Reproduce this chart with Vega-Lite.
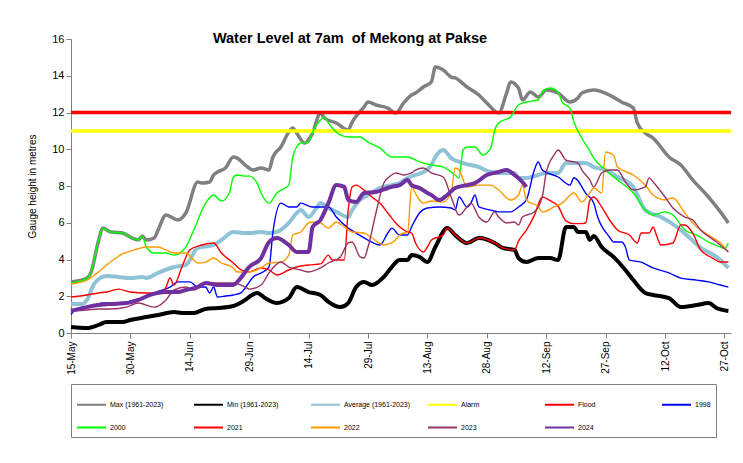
{
"$schema":"https://vega.github.io/schema/vega-lite/v6.json",
"width":660,"height":294,
"autosize":{"type":"none"},
"padding":{"left":71,"top":39,"right":12,"bottom":130},
"background":"white",
"config":{"font":"Liberation Sans","view":{"stroke":null},"axis":{"grid":false,"domainColor":"#808080","tickColor":"#808080","labelColor":"#000000","labelFont":"Liberation Sans","titleFont":"Liberation Sans"}},
"title":{"text":"Water Level at 7am\u00a0 of Mekong at Pakse","fontSize":14.5,"fontWeight":"bold","font":"Liberation Sans","color":"#000000","anchor":"middle","dx":-51,"offset":-13},
"datasets":{
"max":[{"d":"2024-05-15","v":2.78},{"d":"2024-05-19","v":2.99},{"d":"2024-05-20","v":3.27},{"d":"2024-05-22","v":5.06},{"d":"2024-05-23","v":5.71},{"d":"2024-05-25","v":5.5},{"d":"2024-05-28","v":5.44},{"d":"2024-05-30","v":5.22},{"d":"2024-06-01","v":5.06},{"d":"2024-06-02","v":5.28},{"d":"2024-06-03","v":5.06},{"d":"2024-06-05","v":5.17},{"d":"2024-06-06","v":5.61},{"d":"2024-06-08","v":6.42},{"d":"2024-06-11","v":6.15},{"d":"2024-06-13","v":6.53},{"d":"2024-06-16","v":8.22},{"d":"2024-06-17","v":8.16},{"d":"2024-06-19","v":8.22},{"d":"2024-06-20","v":8.6},{"d":"2024-06-21","v":8.76},{"d":"2024-06-23","v":8.98},{"d":"2024-06-25","v":9.58},{"d":"2024-06-26","v":9.52},{"d":"2024-06-28","v":9.14},{"d":"2024-06-30","v":8.87},{"d":"2024-07-02","v":8.98},{"d":"2024-07-04","v":8.87},{"d":"2024-07-05","v":9.58},{"d":"2024-07-07","v":10.12},{"d":"2024-07-09","v":10.94},{"d":"2024-07-10","v":11.16},{"d":"2024-07-11","v":10.88},{"d":"2024-07-13","v":10.34},{"d":"2024-07-15","v":10.88},{"d":"2024-07-17","v":11.97},{"d":"2024-07-18","v":11.7},{"d":"2024-07-21","v":11.43},{"d":"2024-07-24","v":11.05},{"d":"2024-07-25","v":11.48},{"d":"2024-07-28","v":12.3},{"d":"2024-07-29","v":12.57},{"d":"2024-07-31","v":12.41},{"d":"2024-08-03","v":12.24},{"d":"2024-08-05","v":11.97},{"d":"2024-08-07","v":12.52},{"d":"2024-08-09","v":12.95},{"d":"2024-08-10","v":13.06},{"d":"2024-08-12","v":13.39},{"d":"2024-08-14","v":13.66},{"d":"2024-08-15","v":14.48},{"d":"2024-08-17","v":14.31},{"d":"2024-08-19","v":13.93},{"d":"2024-08-20","v":13.88},{"d":"2024-08-23","v":13.39},{"d":"2024-08-26","v":12.95},{"d":"2024-08-28","v":12.52},{"d":"2024-08-31","v":11.97},{"d":"2024-09-02","v":13.06},{"d":"2024-09-03","v":13.66},{"d":"2024-09-05","v":13.33},{"d":"2024-09-06","v":12.68},{"d":"2024-09-08","v":13.12},{"d":"2024-09-10","v":12.84},{"d":"2024-09-12","v":13.22},{"d":"2024-09-15","v":13.06},{"d":"2024-09-18","v":12.57},{"d":"2024-09-20","v":12.79},{"d":"2024-09-21","v":13.06},{"d":"2024-09-24","v":13.22},{"d":"2024-09-28","v":12.95},{"d":"2024-10-01","v":12.57},{"d":"2024-10-04","v":12.24},{"d":"2024-10-05","v":11.43},{"d":"2024-10-07","v":10.88},{"d":"2024-10-09","v":10.61},{"d":"2024-10-13","v":9.58},{"d":"2024-10-16","v":9.14},{"d":"2024-10-19","v":8.33},{"d":"2024-10-23","v":7.4},{"d":"2024-10-26","v":6.59},{"d":"2024-10-28","v":5.99}],
"min":[{"d":"2024-05-15","v":0.33},{"d":"2024-05-19","v":0.27},{"d":"2024-05-22","v":0.44},{"d":"2024-05-24","v":0.6},{"d":"2024-05-28","v":0.6},{"d":"2024-05-30","v":0.71},{"d":"2024-06-03","v":0.87},{"d":"2024-06-06","v":0.98},{"d":"2024-06-10","v":1.14},{"d":"2024-06-12","v":1.09},{"d":"2024-06-15","v":1.09},{"d":"2024-06-18","v":1.31},{"d":"2024-06-21","v":1.36},{"d":"2024-06-25","v":1.47},{"d":"2024-06-28","v":1.8},{"d":"2024-06-29","v":1.96},{"d":"2024-07-01","v":2.18},{"d":"2024-07-03","v":1.9},{"d":"2024-07-06","v":1.63},{"d":"2024-07-09","v":1.9},{"d":"2024-07-11","v":2.5},{"d":"2024-07-14","v":2.23},{"d":"2024-07-17","v":2.07},{"d":"2024-07-19","v":1.69},{"d":"2024-07-22","v":1.41},{"d":"2024-07-24","v":1.63},{"d":"2024-07-26","v":2.5},{"d":"2024-07-28","v":2.78},{"d":"2024-07-30","v":2.61},{"d":"2024-08-02","v":3.05},{"d":"2024-08-04","v":3.59},{"d":"2024-08-06","v":3.97},{"d":"2024-08-08","v":3.97},{"d":"2024-08-09","v":4.24},{"d":"2024-08-11","v":4.14},{"d":"2024-08-13","v":3.86},{"d":"2024-08-15","v":4.68},{"d":"2024-08-18","v":5.71},{"d":"2024-08-20","v":5.33},{"d":"2024-08-23","v":4.9},{"d":"2024-08-26","v":5.17},{"d":"2024-08-30","v":4.9},{"d":"2024-09-01","v":4.63},{"d":"2024-09-04","v":4.52},{"d":"2024-09-05","v":4.08},{"d":"2024-09-07","v":3.86},{"d":"2024-09-10","v":4.08},{"d":"2024-09-13","v":4.08},{"d":"2024-09-15","v":3.97},{"d":"2024-09-17","v":5.77},{"d":"2024-09-19","v":5.77},{"d":"2024-09-20","v":5.5},{"d":"2024-09-22","v":5.5},{"d":"2024-09-23","v":5.06},{"d":"2024-09-24","v":5.28},{"d":"2024-09-26","v":4.68},{"d":"2024-09-29","v":4.14},{"d":"2024-10-02","v":3.43},{"d":"2024-10-04","v":2.88},{"d":"2024-10-07","v":2.18},{"d":"2024-10-09","v":2.07},{"d":"2024-10-13","v":1.9},{"d":"2024-10-16","v":1.41},{"d":"2024-10-20","v":1.52},{"d":"2024-10-23","v":1.63},{"d":"2024-10-25","v":1.36},{"d":"2024-10-28","v":1.2}],
"avg":[{"d":"2024-05-15","v":1.58},{"d":"2024-05-18","v":1.58},{"d":"2024-05-19","v":1.8},{"d":"2024-05-21","v":2.72},{"d":"2024-05-24","v":3.1},{"d":"2024-05-27","v":3.05},{"d":"2024-05-30","v":2.99},{"d":"2024-06-02","v":3.05},{"d":"2024-06-03","v":2.99},{"d":"2024-06-06","v":3.27},{"d":"2024-06-10","v":3.59},{"d":"2024-06-13","v":3.7},{"d":"2024-06-16","v":4.63},{"d":"2024-06-20","v":4.79},{"d":"2024-06-22","v":5.06},{"d":"2024-06-25","v":5.5},{"d":"2024-06-28","v":5.44},{"d":"2024-06-29","v":5.44},{"d":"2024-07-02","v":5.5},{"d":"2024-07-04","v":5.44},{"d":"2024-07-06","v":5.5},{"d":"2024-07-09","v":5.99},{"d":"2024-07-11","v":6.53},{"d":"2024-07-12","v":6.69},{"d":"2024-07-14","v":6.31},{"d":"2024-07-16","v":6.8},{"d":"2024-07-17","v":7.07},{"d":"2024-07-19","v":6.8},{"d":"2024-07-21","v":6.59},{"d":"2024-07-24","v":6.31},{"d":"2024-07-25","v":6.69},{"d":"2024-07-27","v":7.24},{"d":"2024-07-29","v":7.51},{"d":"2024-08-01","v":7.89},{"d":"2024-08-04","v":8.05},{"d":"2024-08-06","v":8.16},{"d":"2024-08-08","v":8.44},{"d":"2024-08-10","v":8.6},{"d":"2024-08-12","v":8.76},{"d":"2024-08-14","v":9.14},{"d":"2024-08-15","v":9.58},{"d":"2024-08-17","v":9.96},{"d":"2024-08-19","v":9.52},{"d":"2024-08-22","v":9.25},{"d":"2024-08-26","v":9.03},{"d":"2024-08-29","v":8.76},{"d":"2024-09-01","v":8.71},{"d":"2024-09-04","v":8.71},{"d":"2024-09-05","v":8.44},{"d":"2024-09-07","v":8.44},{"d":"2024-09-10","v":8.6},{"d":"2024-09-12","v":8.71},{"d":"2024-09-15","v":8.71},{"d":"2024-09-17","v":9.25},{"d":"2024-09-20","v":9.25},{"d":"2024-09-22","v":9.25},{"d":"2024-09-24","v":9.03},{"d":"2024-09-27","v":8.87},{"d":"2024-09-30","v":8.49},{"d":"2024-10-04","v":7.95},{"d":"2024-10-07","v":6.69},{"d":"2024-10-11","v":6.31},{"d":"2024-10-15","v":5.77},{"d":"2024-10-18","v":5.22},{"d":"2024-10-21","v":4.63},{"d":"2024-10-25","v":4.14},{"d":"2024-10-28","v":3.54}],
"alarm":[{"d":"2024-05-15","v":11},{"d":"2024-10-28T16:00:00Z","v":11}],
"flood":[{"d":"2024-05-15","v":12},{"d":"2024-10-28T16:00:00Z","v":12}],
"y1998":[{"d":"2024-05-15","v":1.0},{"d":"2024-05-16","v":1.25},{"d":"2024-05-18","v":1.41},{"d":"2024-05-20","v":1.47},{"d":"2024-05-23","v":1.63},{"d":"2024-05-25","v":1.63},{"d":"2024-05-28","v":1.63},{"d":"2024-05-31","v":1.8},{"d":"2024-06-03","v":1.96},{"d":"2024-06-05","v":2.18},{"d":"2024-06-09","v":2.5},{"d":"2024-06-11","v":2.78},{"d":"2024-06-14","v":2.78},{"d":"2024-06-16","v":2.5},{"d":"2024-06-18","v":2.5},{"d":"2024-06-19","v":2.18},{"d":"2024-06-20","v":2.5},{"d":"2024-06-21","v":1.96},{"d":"2024-06-23","v":2.01},{"d":"2024-06-25","v":2.07},{"d":"2024-06-27","v":2.2},{"d":"2024-06-28","v":2.45},{"d":"2024-06-30","v":3.05},{"d":"2024-07-02","v":3.27},{"d":"2024-07-04","v":3.59},{"d":"2024-07-05","v":5.5},{"d":"2024-07-07","v":7.07},{"d":"2024-07-09","v":6.86},{"d":"2024-07-11","v":6.86},{"d":"2024-07-12","v":7.07},{"d":"2024-07-15","v":6.86},{"d":"2024-07-19","v":6.86},{"d":"2024-07-21","v":6.31},{"d":"2024-07-24","v":5.71},{"d":"2024-07-26","v":5.44},{"d":"2024-07-29","v":5.06},{"d":"2024-08-01","v":4.79},{"d":"2024-08-03","v":5.44},{"d":"2024-08-04","v":5.71},{"d":"2024-08-06","v":5.33},{"d":"2024-08-08","v":5.33},{"d":"2024-08-09","v":5.77},{"d":"2024-08-11","v":6.53},{"d":"2024-08-13","v":6.8},{"d":"2024-08-16","v":6.86},{"d":"2024-08-19","v":6.8},{"d":"2024-08-20","v":6.69},{"d":"2024-08-21","v":7.4},{"d":"2024-08-23","v":6.86},{"d":"2024-08-24","v":7.07},{"d":"2024-08-25","v":7.51},{"d":"2024-08-26","v":6.86},{"d":"2024-08-29","v":6.69},{"d":"2024-08-31","v":6.59},{"d":"2024-09-03","v":6.59},{"d":"2024-09-05","v":6.86},{"d":"2024-09-07","v":7.24},{"d":"2024-09-09","v":8.87},{"d":"2024-09-10","v":9.31},{"d":"2024-09-11","v":8.87},{"d":"2024-09-15","v":8.49},{"d":"2024-09-18","v":8.05},{"d":"2024-09-19","v":8.45},{"d":"2024-09-20","v":8.3},{"d":"2024-09-21","v":7.95},{"d":"2024-09-22","v":7.6},{"d":"2024-09-24","v":7.07},{"d":"2024-09-25","v":6.31},{"d":"2024-09-28","v":5.22},{"d":"2024-09-29","v":4.95},{"d":"2024-10-01","v":4.95},{"d":"2024-10-02","v":4.68},{"d":"2024-10-03","v":3.97},{"d":"2024-10-06","v":3.86},{"d":"2024-10-09","v":3.54},{"d":"2024-10-13","v":3.27},{"d":"2024-10-16","v":2.99},{"d":"2024-10-20","v":2.88},{"d":"2024-10-23","v":2.78},{"d":"2024-10-26","v":2.61},{"d":"2024-10-28","v":2.5}],
"y2000":[{"d":"2024-05-15","v":2.72},{"d":"2024-05-19","v":2.99},{"d":"2024-05-20","v":3.27},{"d":"2024-05-22","v":5.06},{"d":"2024-05-23","v":5.71},{"d":"2024-05-25","v":5.5},{"d":"2024-05-28","v":5.44},{"d":"2024-05-30","v":5.22},{"d":"2024-06-01","v":5.06},{"d":"2024-06-02","v":5.28},{"d":"2024-06-03","v":4.68},{"d":"2024-06-05","v":4.35},{"d":"2024-06-08","v":4.35},{"d":"2024-06-10","v":4.24},{"d":"2024-06-13","v":4.68},{"d":"2024-06-15","v":5.61},{"d":"2024-06-18","v":7.07},{"d":"2024-06-20","v":7.51},{"d":"2024-06-22","v":7.18},{"d":"2024-06-24","v":7.62},{"d":"2024-06-25","v":8.49},{"d":"2024-06-26","v":8.6},{"d":"2024-06-28","v":8.54},{"d":"2024-06-29","v":8.54},{"d":"2024-07-01","v":8.16},{"d":"2024-07-02","v":7.62},{"d":"2024-07-04","v":7.07},{"d":"2024-07-06","v":7.62},{"d":"2024-07-09","v":8.05},{"d":"2024-07-10","v":9.58},{"d":"2024-07-12","v":10.34},{"d":"2024-07-14","v":10.39},{"d":"2024-07-15","v":10.94},{"d":"2024-07-17","v":11.59},{"d":"2024-07-18","v":11.76},{"d":"2024-07-19","v":11.43},{"d":"2024-07-22","v":10.78},{"d":"2024-07-24","v":10.67},{"d":"2024-07-27","v":10.67},{"d":"2024-07-29","v":10.39},{"d":"2024-08-01","v":10.07},{"d":"2024-08-04","v":9.58},{"d":"2024-08-08","v":9.58},{"d":"2024-08-11","v":9.31},{"d":"2024-08-14","v":9.14},{"d":"2024-08-17","v":9.03},{"d":"2024-08-20","v":8.6},{"d":"2024-08-21","v":8.44},{"d":"2024-08-22","v":9.96},{"d":"2024-08-23","v":10.12},{"d":"2024-08-25","v":10.12},{"d":"2024-08-27","v":9.69},{"d":"2024-08-29","v":10.07},{"d":"2024-08-30","v":11.05},{"d":"2024-08-31","v":11.43},{"d":"2024-09-03","v":11.76},{"d":"2024-09-05","v":12.41},{"d":"2024-09-07","v":12.57},{"d":"2024-09-10","v":12.68},{"d":"2024-09-11","v":13.12},{"d":"2024-09-13","v":13.33},{"d":"2024-09-15","v":13.12},{"d":"2024-09-16","v":12.57},{"d":"2024-09-18","v":12.24},{"d":"2024-09-19","v":11.5},{"d":"2024-09-21","v":10.6},{"d":"2024-09-23","v":9.9},{"d":"2024-09-24","v":9.52},{"d":"2024-09-27","v":8.87},{"d":"2024-09-30","v":8.33},{"d":"2024-10-04","v":7.62},{"d":"2024-10-07","v":6.69},{"d":"2024-10-09","v":6.42},{"d":"2024-10-12","v":6.59},{"d":"2024-10-14","v":6.42},{"d":"2024-10-17","v":5.61},{"d":"2024-10-20","v":5.33},{"d":"2024-10-23","v":4.95},{"d":"2024-10-26","v":4.68},{"d":"2024-10-27","v":4.6},{"d":"2024-10-28","v":4.9}],
"y2021":[{"d":"2024-05-15","v":1.96},{"d":"2024-05-19","v":2.07},{"d":"2024-05-22","v":2.18},{"d":"2024-05-24","v":2.23},{"d":"2024-05-27","v":2.39},{"d":"2024-05-30","v":2.23},{"d":"2024-06-03","v":2.18},{"d":"2024-06-06","v":2.18},{"d":"2024-06-07","v":2.23},{"d":"2024-06-08","v":2.5},{"d":"2024-06-09","v":2.99},{"d":"2024-06-10","v":2.61},{"d":"2024-06-12","v":3.59},{"d":"2024-06-14","v":4.52},{"d":"2024-06-17","v":4.79},{"d":"2024-06-20","v":4.9},{"d":"2024-06-22","v":4.35},{"d":"2024-06-25","v":3.81},{"d":"2024-06-27","v":3.43},{"d":"2024-06-29","v":3.32},{"d":"2024-07-02","v":3.54},{"d":"2024-07-04","v":3.43},{"d":"2024-07-06","v":3.16},{"d":"2024-07-09","v":3.43},{"d":"2024-07-11","v":3.59},{"d":"2024-07-14","v":3.7},{"d":"2024-07-17","v":3.76},{"d":"2024-07-19","v":4.24},{"d":"2024-07-20","v":3.97},{"d":"2024-07-23","v":3.97},{"d":"2024-07-24","v":6.69},{"d":"2024-07-25","v":7.95},{"d":"2024-07-26","v":8.05},{"d":"2024-07-28","v":7.78},{"d":"2024-07-30","v":7.4},{"d":"2024-08-01","v":7.07},{"d":"2024-08-03","v":6.53},{"d":"2024-08-05","v":5.99},{"d":"2024-08-08","v":5.5},{"d":"2024-08-09","v":5.44},{"d":"2024-08-10","v":4.9},{"d":"2024-08-12","v":4.41},{"d":"2024-08-13","v":4.68},{"d":"2024-08-14","v":5.06},{"d":"2024-08-17","v":5.33},{"d":"2024-08-18","v":5.71},{"d":"2024-08-20","v":5.33},{"d":"2024-08-23","v":4.9},{"d":"2024-08-26","v":5.17},{"d":"2024-08-30","v":4.9},{"d":"2024-09-01","v":4.63},{"d":"2024-09-04","v":4.52},{"d":"2024-09-05","v":5.0},{"d":"2024-09-07","v":5.6},{"d":"2024-09-09","v":6.4},{"d":"2024-09-11","v":7.4},{"d":"2024-09-13","v":7.2},{"d":"2024-09-15","v":6.9},{"d":"2024-09-17","v":6.1},{"d":"2024-09-19","v":5.95},{"d":"2024-09-21","v":5.95},{"d":"2024-09-22","v":6.0},{"d":"2024-09-23","v":7.2},{"d":"2024-09-24","v":7.4},{"d":"2024-09-26","v":6.86},{"d":"2024-09-28","v":6.15},{"d":"2024-09-30","v":5.61},{"d":"2024-10-03","v":5.33},{"d":"2024-10-05","v":4.9},{"d":"2024-10-06","v":5.44},{"d":"2024-10-08","v":5.44},{"d":"2024-10-09","v":5.77},{"d":"2024-10-10","v":5.22},{"d":"2024-10-11","v":4.79},{"d":"2024-10-14","v":4.9},{"d":"2024-10-16","v":5.88},{"d":"2024-10-17","v":5.88},{"d":"2024-10-19","v":5.44},{"d":"2024-10-21","v":4.52},{"d":"2024-10-24","v":4.08},{"d":"2024-10-26","v":3.86},{"d":"2024-10-28","v":3.86}],
"y2022":[{"d":"2024-05-15","v":2.67},{"d":"2024-05-19","v":2.88},{"d":"2024-05-21","v":3.16},{"d":"2024-05-24","v":3.7},{"d":"2024-05-28","v":4.3},{"d":"2024-05-31","v":4.52},{"d":"2024-06-03","v":4.68},{"d":"2024-06-06","v":4.68},{"d":"2024-06-08","v":4.52},{"d":"2024-06-10","v":4.35},{"d":"2024-06-13","v":4.35},{"d":"2024-06-15","v":3.97},{"d":"2024-06-16","v":3.81},{"d":"2024-06-18","v":3.86},{"d":"2024-06-20","v":4.08},{"d":"2024-06-22","v":3.81},{"d":"2024-06-25","v":3.54},{"d":"2024-06-26","v":3.32},{"d":"2024-06-29","v":3.32},{"d":"2024-07-02","v":3.54},{"d":"2024-07-04","v":3.81},{"d":"2024-07-07","v":3.86},{"d":"2024-07-09","v":4.24},{"d":"2024-07-10","v":5.33},{"d":"2024-07-12","v":5.5},{"d":"2024-07-14","v":5.99},{"d":"2024-07-15","v":6.04},{"d":"2024-07-17","v":5.99},{"d":"2024-07-19","v":5.71},{"d":"2024-07-21","v":6.04},{"d":"2024-07-23","v":5.77},{"d":"2024-07-25","v":5.5},{"d":"2024-07-28","v":5.44},{"d":"2024-07-30","v":5.17},{"d":"2024-08-02","v":4.79},{"d":"2024-08-04","v":4.9},{"d":"2024-08-07","v":5.44},{"d":"2024-08-08","v":5.44},{"d":"2024-08-09","v":7.95},{"d":"2024-08-10","v":7.6},{"d":"2024-08-11","v":7.24},{"d":"2024-08-12","v":7.07},{"d":"2024-08-14","v":7.18},{"d":"2024-08-17","v":7.13},{"d":"2024-08-19","v":7.67},{"d":"2024-08-20","v":8.98},{"d":"2024-08-21","v":8.87},{"d":"2024-08-23","v":7.95},{"d":"2024-08-26","v":8.05},{"d":"2024-08-29","v":8.05},{"d":"2024-08-31","v":7.78},{"d":"2024-09-03","v":7.24},{"d":"2024-09-05","v":7.51},{"d":"2024-09-06","v":8.05},{"d":"2024-09-07","v":7.24},{"d":"2024-09-10","v":6.86},{"d":"2024-09-11","v":6.59},{"d":"2024-09-14","v":6.86},{"d":"2024-09-16","v":7.07},{"d":"2024-09-19","v":7.62},{"d":"2024-09-21","v":7.13},{"d":"2024-09-23","v":7.62},{"d":"2024-09-24","v":7.89},{"d":"2024-09-26","v":7.62},{"d":"2024-09-27","v":9.85},{"d":"2024-09-29","v":9.69},{"d":"2024-09-30","v":9.03},{"d":"2024-10-04","v":8.6},{"d":"2024-10-07","v":8.05},{"d":"2024-10-09","v":7.51},{"d":"2024-10-12","v":7.24},{"d":"2024-10-14","v":7.35},{"d":"2024-10-17","v":6.53},{"d":"2024-10-20","v":5.77},{"d":"2024-10-23","v":5.33},{"d":"2024-10-26","v":4.9},{"d":"2024-10-28","v":4.41}],
"y2023":[{"d":"2024-05-15","v":1.2},{"d":"2024-05-19","v":1.25},{"d":"2024-05-22","v":1.31},{"d":"2024-05-25","v":1.31},{"d":"2024-05-29","v":1.41},{"d":"2024-06-01","v":1.63},{"d":"2024-06-05","v":1.41},{"d":"2024-06-08","v":1.8},{"d":"2024-06-10","v":2.34},{"d":"2024-06-13","v":2.5},{"d":"2024-06-15","v":2.34},{"d":"2024-06-18","v":2.72},{"d":"2024-06-21","v":2.72},{"d":"2024-06-25","v":2.72},{"d":"2024-06-28","v":2.5},{"d":"2024-06-29","v":2.39},{"d":"2024-07-02","v":2.61},{"d":"2024-07-04","v":3.27},{"d":"2024-07-07","v":3.86},{"d":"2024-07-09","v":3.59},{"d":"2024-07-12","v":3.43},{"d":"2024-07-14","v":3.32},{"d":"2024-07-17","v":3.54},{"d":"2024-07-19","v":3.81},{"d":"2024-07-22","v":4.14},{"d":"2024-07-24","v":4.9},{"d":"2024-07-25","v":4.95},{"d":"2024-07-27","v":4.14},{"d":"2024-07-28","v":4.08},{"d":"2024-07-29","v":4.68},{"d":"2024-07-31","v":6.53},{"d":"2024-08-02","v":8.16},{"d":"2024-08-04","v":8.6},{"d":"2024-08-05","v":8.71},{"d":"2024-08-07","v":8.6},{"d":"2024-08-09","v":8.71},{"d":"2024-08-10","v":8.87},{"d":"2024-08-12","v":8.98},{"d":"2024-08-14","v":8.71},{"d":"2024-08-17","v":8.49},{"d":"2024-08-19","v":7.4},{"d":"2024-08-21","v":6.42},{"d":"2024-08-23","v":6.86},{"d":"2024-08-24","v":7.07},{"d":"2024-08-26","v":6.31},{"d":"2024-08-28","v":6.04},{"d":"2024-08-30","v":6.59},{"d":"2024-08-31","v":6.31},{"d":"2024-09-02","v":5.99},{"d":"2024-09-04","v":6.04},{"d":"2024-09-05","v":5.88},{"d":"2024-09-06","v":6.31},{"d":"2024-09-09","v":6.59},{"d":"2024-09-11","v":7.4},{"d":"2024-09-12","v":8.71},{"d":"2024-09-14","v":9.69},{"d":"2024-09-15","v":9.96},{"d":"2024-09-17","v":9.41},{"d":"2024-09-20","v":9.25},{"d":"2024-09-21","v":8.87},{"d":"2024-09-23","v":8.33},{"d":"2024-09-24","v":7.95},{"d":"2024-09-26","v":8.71},{"d":"2024-09-28","v":8.87},{"d":"2024-09-30","v":8.87},{"d":"2024-10-02","v":8.22},{"d":"2024-10-04","v":7.78},{"d":"2024-10-07","v":7.95},{"d":"2024-10-08","v":8.44},{"d":"2024-10-09","v":8.22},{"d":"2024-10-12","v":7.4},{"d":"2024-10-14","v":6.8},{"d":"2024-10-17","v":6.31},{"d":"2024-10-19","v":6.15},{"d":"2024-10-21","v":5.61},{"d":"2024-10-25","v":4.95},{"d":"2024-10-28","v":4.41}],
"y2024":[{"d":"2024-05-15","v":1.2},{"d":"2024-05-19","v":1.41},{"d":"2024-05-22","v":1.52},{"d":"2024-05-25","v":1.58},{"d":"2024-05-29","v":1.63},{"d":"2024-06-01","v":1.8},{"d":"2024-06-04","v":2.07},{"d":"2024-06-08","v":2.23},{"d":"2024-06-11","v":2.23},{"d":"2024-06-13","v":2.34},{"d":"2024-06-16","v":2.5},{"d":"2024-06-18","v":2.72},{"d":"2024-06-21","v":2.61},{"d":"2024-06-25","v":2.61},{"d":"2024-06-26","v":2.78},{"d":"2024-06-28","v":3.32},{"d":"2024-06-29","v":3.59},{"d":"2024-07-02","v":4.08},{"d":"2024-07-04","v":4.95},{"d":"2024-07-06","v":5.17},{"d":"2024-07-09","v":4.79},{"d":"2024-07-11","v":4.41},{"d":"2024-07-14","v":4.41},{"d":"2024-07-15","v":5.77},{"d":"2024-07-17","v":6.15},{"d":"2024-07-19","v":7.07},{"d":"2024-07-21","v":8.05},{"d":"2024-07-23","v":7.95},{"d":"2024-07-24","v":7.24},{"d":"2024-07-26","v":7.13},{"d":"2024-07-28","v":7.62},{"d":"2024-07-31","v":7.67},{"d":"2024-08-03","v":7.89},{"d":"2024-08-04","v":7.95},{"d":"2024-08-06","v":8.05},{"d":"2024-08-08","v":8.33},{"d":"2024-08-09","v":8.05},{"d":"2024-08-11","v":7.89},{"d":"2024-08-13","v":7.62},{"d":"2024-08-14","v":7.51},{"d":"2024-08-16","v":7.24},{"d":"2024-08-18","v":7.51},{"d":"2024-08-20","v":7.89},{"d":"2024-08-23","v":8.05},{"d":"2024-08-25","v":8.16},{"d":"2024-08-28","v":8.6},{"d":"2024-08-31","v":8.76},{"d":"2024-09-02","v":8.87},{"d":"2024-09-04","v":8.6},{"d":"2024-09-06","v":8.22},{"d":"2024-09-07","v":7.95}]
},
"encoding":{
"x":{"field":"d","type":"temporal","scale":{"type":"utc","domain":[{"year":2024,"month":5,"date":15,"utc":true},{"year":2024,"month":10,"date":28,"hours":16,"utc":true}]},"axis":{"title":null,"format":"%-d-%b","labelAngle":-90,"labelFontSize":10,"tickSize":5,"labelPadding":3,"values":[{"year":2024,"month":5,"date":15,"utc":true},{"year":2024,"month":5,"date":30,"utc":true},{"year":2024,"month":6,"date":14,"utc":true},{"year":2024,"month":6,"date":29,"utc":true},{"year":2024,"month":7,"date":14,"utc":true},{"year":2024,"month":7,"date":29,"utc":true},{"year":2024,"month":8,"date":13,"utc":true},{"year":2024,"month":8,"date":28,"utc":true},{"year":2024,"month":9,"date":12,"utc":true},{"year":2024,"month":9,"date":27,"utc":true},{"year":2024,"month":10,"date":12,"utc":true},{"year":2024,"month":10,"date":27,"utc":true}]}},
"y":{"field":"v","type":"quantitative","scale":{"domain":[0,16],"nice":false},"axis":{"title":"Gauge height in metres","titleFontSize":10,"titleFontWeight":"normal","titleColor":"#000000","titlePadding":14,"labelFontSize":11,"tickSize":5,"values":[0,2,4,6,8,10,12,14,16]}}
},
"layer":[
{"data":{"name":"max"},"mark":{"type":"line","strokeWidth":3.5,"interpolate":"monotone"},"encoding":{"color":{"datum":"Max (1961-2023)","scale":{"domain":["Max (1961-2023)","Min (1961-2023)","Average (1961-2023)","Alarm","Flood","1998","2000","2021","2022","2023","2024"],"range":["#808080","#000000","#8fc3d7","#ffff00","#ff0000","#0000ff","#00ff00","#ff0000","#ff9900","#993366","#7030a0"]},"legend":{"title":null,"orient":"bottom","direction":"horizontal","columns":6,"symbolType":"stroke","symbolStrokeWidth":2,"symbolSize":841,"labelFontSize":7,"labelFont":"Liberation Sans","labelColor":"#000000","labelOffset":3,"columnPadding":13,"rowPadding":3,"gridAlign":"all","strokeColor":"#808080","padding":5,"offset":9}}}},
{"data":{"name":"min"},"mark":{"type":"line","strokeWidth":4,"interpolate":"monotone"},"encoding":{"color":{"datum":"Min (1961-2023)"}}},
{"data":{"name":"avg"},"mark":{"type":"line","strokeWidth":4,"interpolate":"monotone"},"encoding":{"color":{"datum":"Average (1961-2023)"}}},
{"data":{"name":"alarm"},"mark":{"type":"line","strokeWidth":3.5},"encoding":{"color":{"datum":"Alarm"}}},
{"data":{"name":"flood"},"mark":{"type":"line","strokeWidth":3.5},"encoding":{"color":{"datum":"Flood"}}},
{"data":{"name":"y1998"},"mark":{"type":"line","strokeWidth":1.4,"interpolate":"monotone"},"encoding":{"color":{"datum":"1998"}}},
{"data":{"name":"y2000"},"mark":{"type":"line","strokeWidth":1.4,"interpolate":"monotone"},"encoding":{"color":{"datum":"2000"}}},
{"data":{"name":"y2021"},"mark":{"type":"line","strokeWidth":1.4,"interpolate":"monotone"},"encoding":{"color":{"datum":"2021"}}},
{"data":{"name":"y2022"},"mark":{"type":"line","strokeWidth":1.4,"interpolate":"monotone"},"encoding":{"color":{"datum":"2022"}}},
{"data":{"name":"y2023"},"mark":{"type":"line","strokeWidth":1.4,"interpolate":"monotone"},"encoding":{"color":{"datum":"2023"}}},
{"data":{"name":"y2024"},"mark":{"type":"line","strokeWidth":4,"interpolate":"monotone"},"encoding":{"color":{"datum":"2024"}}}
]
}
